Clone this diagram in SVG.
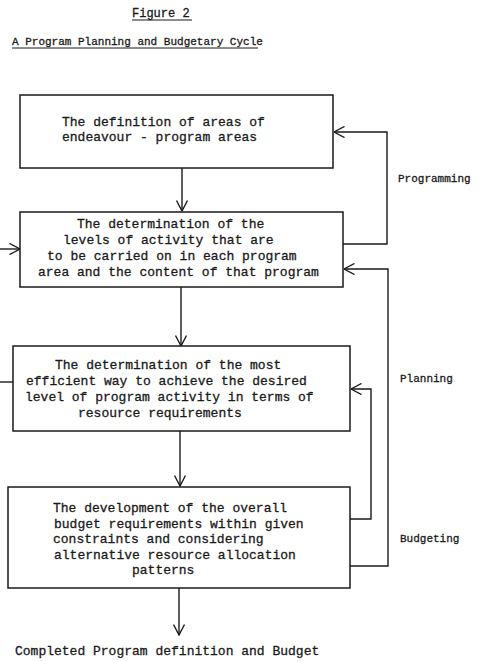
<svg xmlns="http://www.w3.org/2000/svg" width="490" height="661" viewBox="0 0 490 661">
<style>
text{font-family:"Liberation Mono","DejaVu Sans Mono",monospace;fill:#1a1a1a;stroke:#1a1a1a;stroke-width:0.3}
.t{font-size:13px}
.l{font-size:11px}
.h{font-size:12px}
.box{fill:#fff;stroke:#1a1a1a;stroke-width:1.5}
.c{fill:none;stroke:#1a1a1a;stroke-width:1.4}
</style>
<defs>
<marker id="ah" viewBox="0 0 12 12" refX="11.5" refY="6" markerWidth="12" markerHeight="12" markerUnits="userSpaceOnUse" orient="auto">
<polyline points="1,0.5 11.5,6 1,11.5" fill="none" stroke="#1a1a1a" stroke-width="1.4"/>
</marker>
</defs>
<rect width="490" height="661" fill="#fff"/>
<g id="title">
<text class="h" x="132" y="17">Figure 2</text>
<line x1="132" y1="20" x2="192" y2="20" stroke="#1a1a1a" stroke-width="1"/>
<text class="l" x="12" y="45">A Program Planning and Budgetary Cycle</text>
<line x1="12" y1="48" x2="258" y2="48" stroke="#1a1a1a" stroke-width="1"/>
</g>
<g id="connectors">
<line class="c" x1="182" y1="168" x2="182" y2="211" marker-end="url(#ah)"/>
<line class="c" x1="181" y1="287" x2="181" y2="346" marker-end="url(#ah)"/>
<line class="c" x1="180" y1="431" x2="180" y2="486" marker-end="url(#ah)"/>
<line class="c" x1="179" y1="588" x2="179" y2="635" marker-end="url(#ah)"/>
<polyline class="c" points="343,244 387,244 387,132 334,132" marker-end="url(#ah)"/>
<polyline class="c" points="350,566 388,566 388,269 344,269" marker-end="url(#ah)"/>
<polyline class="c" points="350,519 371,519 371,389 351,389" marker-end="url(#ah)"/>
<line class="c" x1="0" y1="249" x2="20" y2="249" marker-end="url(#ah)"/>
<line class="c" x1="0" y1="382" x2="13" y2="382"/>
</g>
<g id="node1">
<rect class="box" x="20" y="95" width="313" height="73"/>
<text class="t" x="62" y="126">The definition of areas of</text>
<text class="t" x="62" y="141">endeavour - program areas</text>
</g>
<g id="node2">
<rect class="box" x="20" y="212" width="323" height="75"/>
<text class="t" x="77" y="228">The determination of the</text>
<text class="t" x="63" y="244">levels of activity that are</text>
<text class="t" x="47" y="260">to be carried on in each program</text>
<text class="t" x="38" y="276">area and the content of that program</text>
</g>
<g id="node3">
<rect class="box" x="13" y="346" width="337" height="85"/>
<text class="t" x="55" y="369">The determination of the most</text>
<text class="t" x="26" y="385">efficient way to achieve the desired</text>
<text class="t" x="25" y="401">level of program activity in terms of</text>
<text class="t" x="78" y="417">resource requirements</text>
</g>
<g id="node4">
<rect class="box" x="8" y="487" width="342" height="101"/>
<text class="t" x="53" y="512">The development of the overall</text>
<text class="t" x="54" y="527.5">budget requirements within given</text>
<text class="t" x="53" y="543">constraints and considering</text>
<text class="t" x="54" y="558.5">alternative resource allocation</text>
<text class="t" x="132" y="574">patterns</text>
</g>
<g id="labels">
<text class="l" x="398" y="182">Programming</text>
<text class="l" x="400" y="382">Planning</text>
<text class="l" x="400" y="542">Budgeting</text>
</g>
<g id="output">
<text class="t" x="15" y="655">Completed Program definition and Budget</text>
</g>
</svg>
